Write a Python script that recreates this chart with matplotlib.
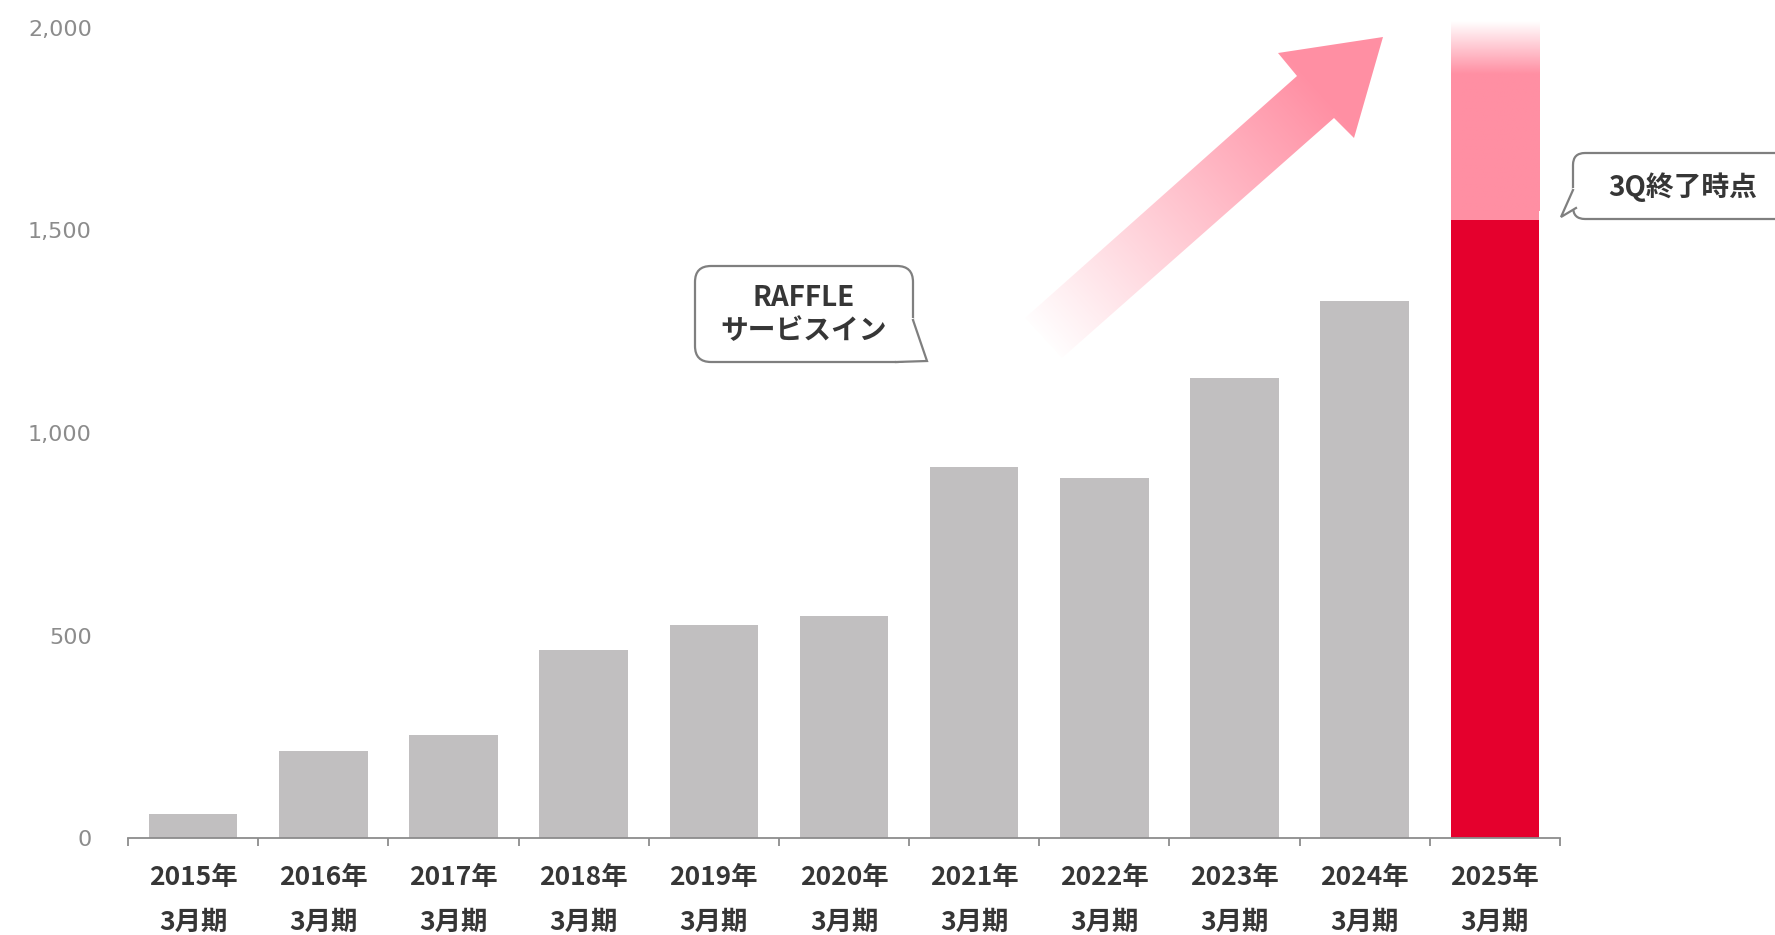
import matplotlib
matplotlib.use("Agg")
import matplotlib.pyplot as plt
import numpy as np
from matplotlib.patches import Polygon, FancyBboxPatch
from matplotlib.colors import to_rgb

plt.rcParams['font.family'] = ['Noto Sans CJK JP', 'DejaVu Sans']

# data
years = ["2015年", "2016年", "2017年", "2018年", "2019年", "2020年",
         "2021年", "2022年", "2023年", "2024年", "2025年"]
period = "3月期"
values = [60, 215, 255, 464, 526, 548, 915, 889, 1136, 1326, 1527]
outlook_top = 1880       # pink part of last bar is solid up to here
outlook_fade_top = 2015  # then fades out up to here

gray = "#c1bfc0"
red = "#e5002d"
pink = "#ff8fa3"
text_dark = "#363636"

fig = plt.figure(figsize=(17.75, 9.35), dpi=100)
ax = fig.add_axes([128 / 1775, 97 / 935, 1432 / 1775, 810 / 935])

x = np.arange(len(years))
w = 0.68
colors = [gray] * (len(years) - 1) + [red]
ax.bar(x, values, width=w, color=colors, zorder=2)
ax.bar(x[-1], outlook_top - values[-1], bottom=values[-1], width=w,
       color=pink, zorder=2)

# fading top of the outlook bar (solid below outlook_top, then fades out)
levels = np.linspace(values[-1], outlook_fade_top, 400)
grad = np.zeros((len(levels), 1, 4))
grad[..., :3] = to_rgb(pink)
grad[:, 0, 3] = np.clip((outlook_fade_top - levels) / (outlook_fade_top - outlook_top), 0, 1)
ax.imshow(grad, extent=(x[-1] - w / 2, x[-1] + w / 2, values[-1] + 20, outlook_fade_top),
          origin='lower', aspect='auto', clip_on=False, interpolation='bilinear', zorder=2)

ax.set_xlim(-0.5, len(years) - 0.5)
ax.set_ylim(0, 2000)
for s in ['top', 'right', 'left']:
    ax.spines[s].set_visible(False)
ax.spines['bottom'].set_color('#8c8c8c')
ax.spines['bottom'].set_linewidth(1.3)

ax.set_yticks([0, 500, 1000, 1500, 2000])
ax.set_yticklabels(["0", "500", "1,000", "1,500", "2,000"],
                   family='DejaVu Sans', fontsize=16, color='#8c8c8c')
ax.tick_params(axis='y', length=0, pad=26)

ax.set_xticks(x)
ax.set_xticklabels([f"{y}\n{period}" for y in years], fontsize=19,
                   fontweight='bold', color=text_dark)
ax.set_xticks(np.arange(-0.5, len(years)), minor=True)
ax.tick_params(axis='x', which='major', length=0, pad=19)
ax.tick_params(axis='x', which='minor', length=6, width=1.3, color='#8c8c8c')
for lbl in ax.get_xticklabels():
    lbl.set_linespacing(1.85)

# overlay in pixel coordinates for the arrow and callouts
ov = fig.add_axes([0, 0, 1, 1])
ov.set_xlim(0, 1775)
ov.set_ylim(935, 0)
ov.axis('off')
ov.patch.set_alpha(0)

arrow_pts = [(1383, 37), (1278, 53), (1297, 76), (1025, 318),
             (1062, 358), (1334, 118), (1354, 138)]
arrow = Polygon(arrow_pts, closed=True, facecolor='none', edgecolor='none')
ov.add_patch(arrow)
xs = np.linspace(1000, 1400, 400)
ys = np.linspace(20, 380, 360)
X, Y = np.meshgrid(xs, ys)
tail = np.array([1040, 342])
head = np.array([1320, 92])
d = head - tail
t = ((X - tail[0]) * d[0] + (Y - tail[1]) * d[1]) / (d @ d)
img = np.zeros((len(ys), len(xs), 4))
img[..., :3] = to_rgb(pink)
img[..., 3] = np.clip(t, 0, 1)
im = ov.imshow(img, extent=(1000, 1400, 380, 20), origin='upper',
               aspect='auto', interpolation='bilinear')
im.set_clip_path(arrow)

edge = '#7f7f7f'
# callout: RAFFLE
ov.add_patch(FancyBboxPatch((695, 266), 218, 96,
                            boxstyle="round,pad=0,rounding_size=16",
                            fc='white', ec=edge, lw=1.6))
ov.add_patch(Polygon([(913.8, 318), (927, 361), (896, 361.2), (896, 318)],
                     closed=True, fc='white', ec='none'))
ov.plot([913, 927, 896], [320, 361, 362], color=edge, lw=1.6,
        solid_joinstyle='miter')
ov.text(804, 298, "RAFFLE", ha='center', va='center', fontsize=20,
        fontweight='bold', color=text_dark)
ov.text(804, 331, "サービスイン", ha='center', va='center', fontsize=20,
        fontweight='bold', color=text_dark)

# callout: 3Q終了時点
ov.add_patch(FancyBboxPatch((1573, 153), 240, 66,
                            boxstyle="round,pad=0,rounding_size=12",
                            fc='white', ec=edge, lw=1.6))
ov.add_patch(Polygon([(1572.2, 188), (1561, 217), (1576, 208), (1576, 188)],
                     closed=True, fc='white', ec='none'))
ov.plot([1573, 1561, 1576], [190, 217, 208], color=edge, lw=1.6,
        solid_joinstyle='miter')
ov.text(1683, 187, "3Q終了時点", ha='center', va='center', fontsize=20,
        fontweight='bold', color=text_dark)

fig.savefig("out.png", dpi=100)
